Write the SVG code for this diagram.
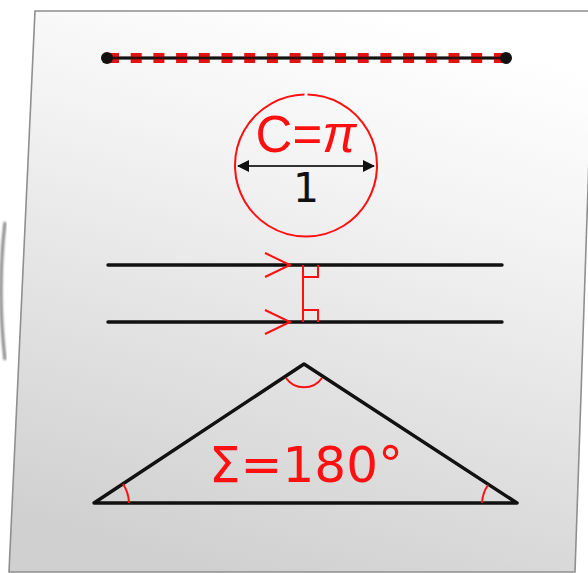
<svg xmlns="http://www.w3.org/2000/svg" width="588" height="573" viewBox="0 0 588 573">
  <defs>
    <linearGradient id="paper" x1="0.65" y1="0" x2="0.35" y2="1">
      <stop offset="0" stop-color="#ffffff"/>
      <stop offset="0.3" stop-color="#f3f3f3"/>
      <stop offset="1" stop-color="#d0d0d0"/>
    </linearGradient>
    <marker id="ah" viewBox="0 0 12 12" refX="11" refY="6" markerWidth="12" markerHeight="12" markerUnits="userSpaceOnUse" orient="auto-start-reverse">
      <path d="M0,0 L12,6 L0,12 Z" fill="#111"/>
    </marker>
    <filter id="soft" x="-50%" y="-10%" width="200%" height="120%">
      <feGaussianBlur stdDeviation="1.2"/>
    </filter>
  </defs>
  <style>
    .blk { fill: none; stroke: #111; stroke-width: 3.4; stroke-linecap: round; stroke-linejoin: round; }
    .red { fill: none; stroke: #ff1010; stroke-width: 2; }
    .txt-red { fill: #ff1010; }
  </style>

  <g id="background">
    <path d="M5,222 Q-3,290 5,360" fill="none" stroke="#888" stroke-width="3" filter="url(#soft)"/>
  </g>

  <g id="sheet">
    <path d="M35,11 L594,11 L575,572 L9,572 Z" fill="url(#paper)" stroke="#8f8f8f" stroke-width="1.6"/>
  </g>

  <g id="segment">
    <line x1="107" y1="58" x2="506" y2="58" stroke="#111" stroke-width="3"/>
    <line x1="108" y1="58" x2="506" y2="58" stroke="#e00000" stroke-width="10" stroke-dasharray="11 11.7" opacity="0.92"/>
    <line x1="107" y1="58" x2="506" y2="58" stroke="#111" stroke-width="2.5" opacity="0.8"/>
    <circle cx="107" cy="58" r="6" fill="#111"/>
    <circle cx="506" cy="58" r="6" fill="#111"/>
  </g>

  <g id="circle">
    <path d="M307.5,94.5 A71,71 0 1 1 304.5,94.5" class="red"/>
    <line x1="238" y1="166" x2="374" y2="166" stroke="#333" stroke-width="1.8" marker-start="url(#ah)" marker-end="url(#ah)"/>
    <text x="306" y="152" text-anchor="middle" font-family="Liberation Sans, Arial, sans-serif" font-size="51" class="txt-red">C=<tspan font-style="italic">π</tspan></text>
    <text x="306" y="202" text-anchor="middle" font-family="DejaVu Sans, sans-serif" font-size="41" fill="#111">1</text>
  </g>

  <g id="parallels">
    <line x1="108" y1="265" x2="502" y2="265" class="blk"/>
    <line x1="108" y1="322" x2="502" y2="322" class="blk"/>
    <path d="M265,253 L290,265 L265,277" class="red" stroke-width="2.4"/>
    <path d="M265,310 L290,322 L265,334" class="red" stroke-width="2.4"/>
    <line x1="303" y1="265" x2="303" y2="322" class="red" stroke-width="2.4"/>
    <path d="M303,277 H318 V265" class="red" stroke-width="2.4"/>
    <path d="M303,310 H318 V322" class="red" stroke-width="2.4"/>
  </g>

  <g id="triangle">
    <path d="M94,503 L304,364 L517,503 Z" class="blk"/>
    <path d="M286,378 A22,22 0 0 0 322,378" class="red"/>
    <path d="M123,484 A36,36 0 0 1 129,503" class="red"/>
    <path d="M488,485 A35,35 0 0 0 482,503" class="red"/>
    <text x="306" y="482" text-anchor="middle" font-family="DejaVu Sans, sans-serif" font-size="50" class="txt-red">Σ=180°</text>
  </g>
</svg>
